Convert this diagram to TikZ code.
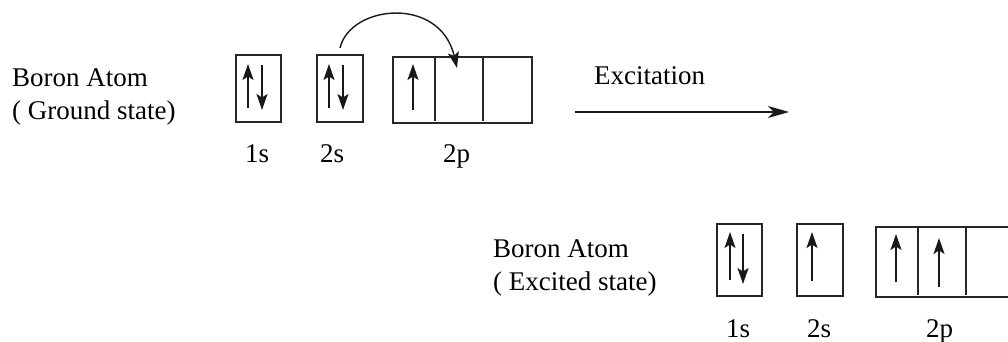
\documentclass[tikz,border=0pt]{standalone}
\usepackage{fontspec}
\setmainfont{Liberation Serif}
\usetikzlibrary{arrows.meta}
\begin{document}
\begin{tikzpicture}[x=1pt,y=-1pt,
  box/.style={draw=black!85, line width=1.5pt},
  divider/.style={draw=black!85, line width=1.4pt},
  spin/.style={draw=black!90, line width=1.4pt, -{Stealth[length=16pt,width=11pt,inset=3.5pt]}},
  bigarrow/.style={draw=black!90, line width=1.4pt, -{Stealth[length=21pt,width=12pt,inset=6pt]}},
  lbl/.style={anchor=base west, inner sep=0pt, font=\fontsize{27}{33}\selectfont}]
\useasboundingbox (0,0) rectangle (1008,342);
% ground state labels
\node[lbl] (g1) at (12,87) {Boron Atom};
\node[lbl] (g2) at (12,120) {( Ground state)};
% ground boxes
\draw[box] (236,55) rectangle (281,122);
\draw[box] (317,55) rectangle (363,122);
\draw[box] (393,57) rectangle (532,123);
\draw[divider] (435,57) -- (435,121);
\draw[divider] (483,57) -- (483,121);
% ground spins
\draw[spin] (248,108) -- (248,64);
\draw[spin] (262,65) -- (262,110);
\draw[spin] (329,108) -- (329,64);
\draw[spin] (343,65) -- (343,110);
\draw[spin] (413,110) -- (413,64);
% curved arrow
\coordinate (cs) at (340,48);
\coordinate (ce) at (457,68);
\draw[spin] (cs) .. controls (350,5) and (440,-5) .. (ce);
% ground orbital labels
\node[lbl] (g1s) at (245,162) {1s};
\node[lbl] (g2s) at (320,162) {2s};
\node[lbl] (g2p) at (443,162) {2p};
% excitation
\node[lbl] (ex) at (594,85) {Excitation};
\coordinate (a1) at (575,112);
\coordinate (a2) at (789,112);
\draw[bigarrow] (a1) -- (a2);
% excited labels
\node[lbl] (e1) at (493,257) {Boron Atom};
\node[lbl] (e2) at (493,290) {( Excited state)};
% excited boxes
\draw[box] (717,224) rectangle (762,296);
\draw[box] (797,224) rectangle (843,296);
\draw[box] (876,227) rectangle (1016,297);
\draw[divider] (918,227) -- (918,295);
\draw[divider] (966,227) -- (966,295);
% excited spins
\draw[spin] (730,280) -- (730,232);
\draw[spin] (743,234) -- (743,284);
\draw[spin] (812,281) -- (812,232);
\draw[spin] (896,282) -- (896,234);
\draw[spin] (939,287) -- (939,238);
% excited orbital labels
\node[lbl] (e1s) at (726,337) {1s};
\node[lbl] (e2s) at (807,337) {2s};
\node[lbl] (e2p) at (926,337) {2p};
\end{tikzpicture}
\end{document}
